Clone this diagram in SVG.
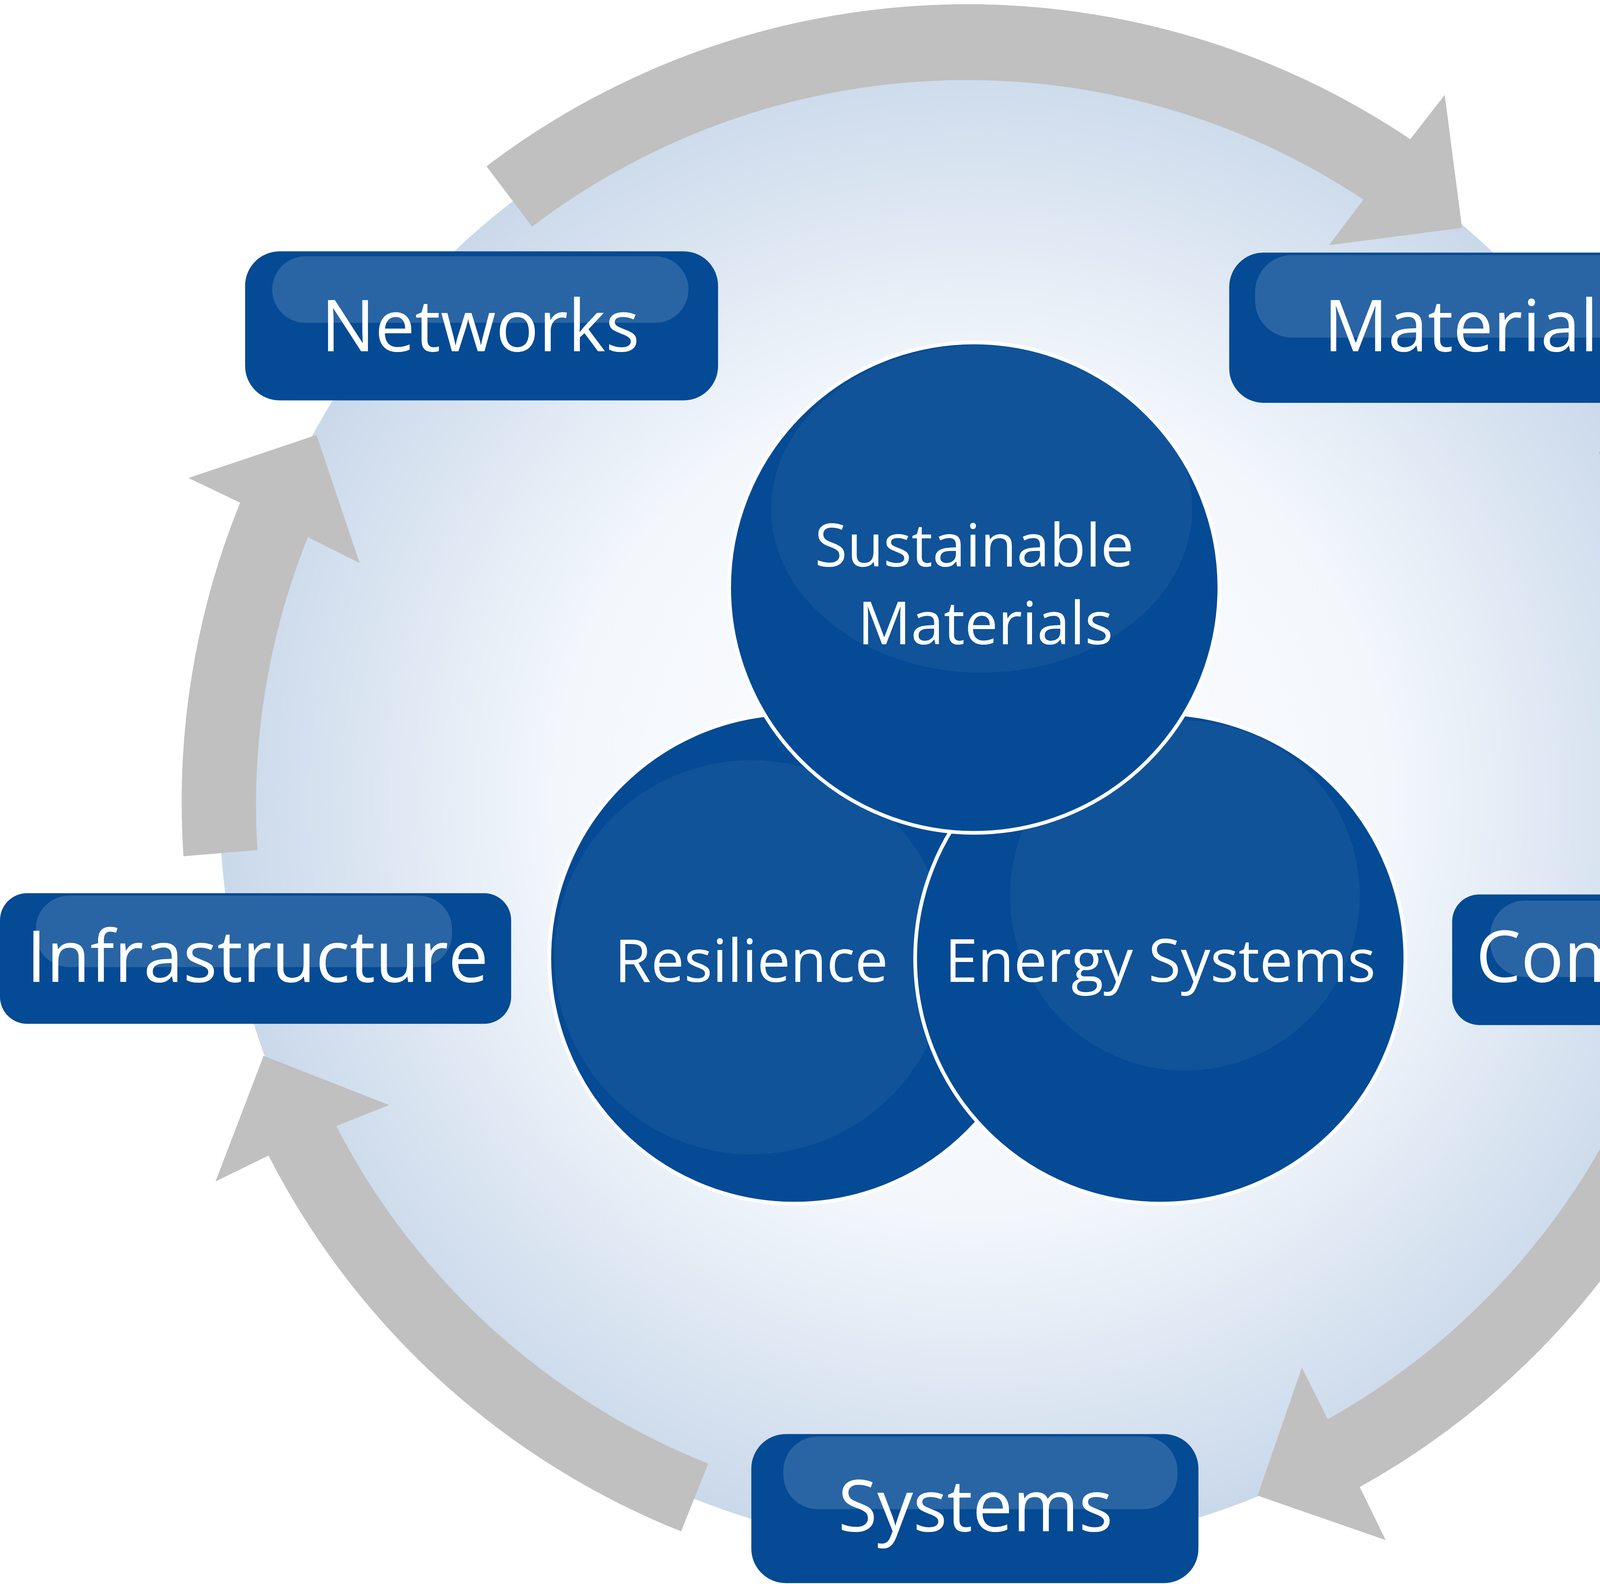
<svg xmlns="http://www.w3.org/2000/svg" width="4944" height="4054" viewBox="0 0 4944 4054">
<defs>
<radialGradient id="bg" cx="790" cy="648" r="615" gradientUnits="userSpaceOnUse">
<stop offset="0" stop-color="#ffffff"/><stop offset="0.55" stop-color="#f3f7fc"/><stop offset="1" stop-color="#c9d8ea"/>
</radialGradient>
<style>
.arrow{fill:#c0c0c0}
.box{fill:#044a94}
.hl{fill:#ffffff;fill-opacity:0.15}
.circ{fill:#044a94;stroke:#ffffff;stroke-width:3}
.chl{fill:#ffffff;fill-opacity:0.05}
.lbl{fill:#ffffff;font-family:"Open Sans","Liberation Sans",sans-serif;font-size:58px;text-anchor:middle}
.clbl{fill:#ffffff;font-family:"Open Sans","Liberation Sans",sans-serif;font-size:48px;text-anchor:middle}
</style>
</defs>
<rect width="4944" height="4054" fill="#ffffff"/>
<g transform="scale(3.1531)">
<circle id="background" cx="790" cy="648" r="612" fill="url(#bg)"/>
<g id="connectors">
<path class="arrow" d="M395,135 A645,645 0 0 1 1145,113 L1173,77 L1187,185 L1079,199 L1107,162 A583,583 0 0 0 432,184 Z"/>
<path class="arrow" d="M1350,339 A645,645 0 0 1 1434,636 L1482,643 L1397,712 L1328,627 L1374,630 A583,583 0 0 0 1298,367 Z"/>
<path class="arrow" d="M1394,871 A645,645 0 0 1 1104,1207 L1125,1250 L1021,1214 L1057,1110 L1078,1152 A583,583 0 0 0 1338,850 Z"/>
<path class="arrow" d="M553,1243 A645,645 0 0 1 218,938 L175,959 L214,857 L316,897 L273,914 A583,583 0 0 0 575,1188 Z"/>
<path class="arrow" d="M149,695 A645,645 0 0 1 195,408 L153,388 L257,353 L292,457 L250,436 A583,583 0 0 0 209,690 Z"/>
</g>
<g id="networks"><rect class="box" x="199" y="204" width="384" height="121" rx="28"/><rect class="hl" x="221" y="208" width="338" height="54" rx="27"/><text class="lbl" x="390" y="285">Networks</text></g>
<g id="materials"><rect class="box" x="998" y="205" width="385" height="122" rx="28"/><rect class="hl" x="1019" y="207" width="338" height="67" rx="30"/><text class="lbl" x="1200" y="285">Materials</text></g>
<g id="infrastructure"><rect class="box" x="0" y="725" width="415" height="106" rx="22"/><rect class="hl" x="29" y="727" width="338" height="58" rx="27"/><text class="lbl" x="209" y="797">Infrastructure</text></g>
<g id="components"><rect class="box" x="1179" y="726" width="389" height="106" rx="22"/><rect class="hl" x="1210" y="731" width="340" height="62" rx="28"/><text class="lbl" x="1372" y="797">Components</text></g>
<g id="systems"><rect class="box" x="610" y="1164" width="363" height="121" rx="28"/><rect class="hl" x="636" y="1166" width="320" height="59" rx="28"/><text class="lbl" x="792" y="1243">Systems</text></g>
<g id="resilience"><circle class="circ" cx="645" cy="778" r="199"/><circle class="chl" cx="610" cy="777" r="160"/><text class="clbl" x="610" y="797">Resilience</text></g>
<g id="energy-systems"><circle class="circ" cx="942" cy="778" r="199"/><circle class="chl" cx="962" cy="727" r="142"/><text class="clbl" x="942" y="797">Energy Systems</text></g>
<g id="sustainable-materials"><circle class="circ" cx="791" cy="477" r="199"/><ellipse class="chl" cx="797" cy="413" rx="171" ry="133"/><text class="clbl" x="791" y="460">Sustainable</text><text class="clbl" x="800" y="523">Materials</text></g>
</g>
</svg>
